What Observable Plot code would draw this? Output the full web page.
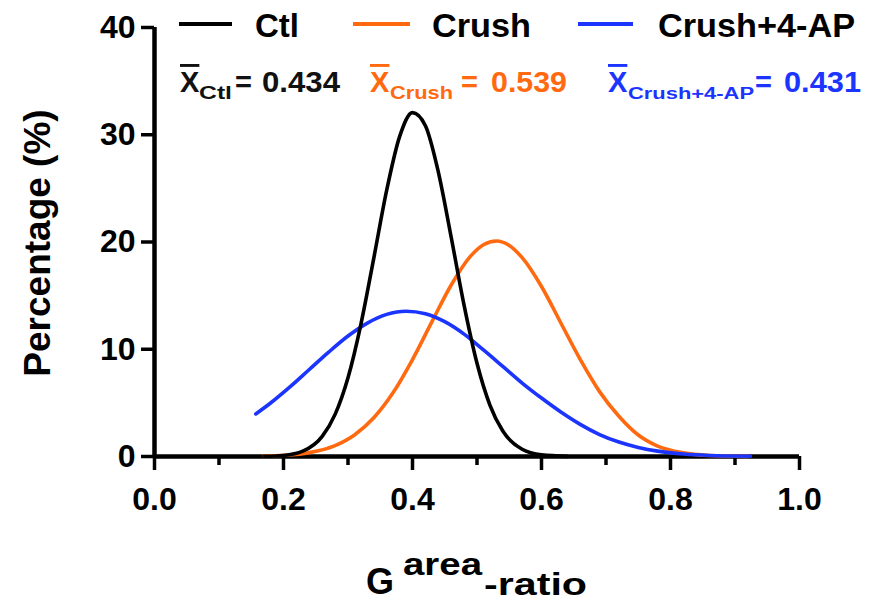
<!DOCTYPE html>
<html><head><meta charset="utf-8">
<script src="https://cdn.jsdelivr.net/npm/d3@7"></script>
<script src="https://cdn.jsdelivr.net/npm/@observablehq/plot@0.6"></script>
<style>
body{margin:0;background:#fff;}
#chart{position:relative;width:881px;height:601px;}
</style>
</head><body><div id="chart"></div>
<script>
const seriesNames = ["Ctl", "Crush", "Crush+4-AP"];
const meanSubscripts = ["Ctl", "Crush", "Crush+4-AP"];
const meanValues = ["0.434", "0.539", "0.431"];
const seriesColors = ["#000000", "#ff6a10", "#1b35ff"];
const xTicks = [0, 0.2, 0.4, 0.6, 0.8, 1.0];
const xMinorTicks = [0.1, 0.3, 0.5, 0.7, 0.9];
const yTicks = [0, 10, 20, 30, 40];

const ctlX = [0.17,0.20,0.23,0.26,0.28,0.30,0.32,0.34,0.36,0.38,0.40,0.42,0.44,0.46,0.48,0.50,0.52,0.54,0.57,0.60,0.64];
const ctlY = [0.02,0.10,0.50,1.88,3.93,7.35,12.33,18.50,24.83,29.82,32.06,30.84,26.54,20.44,14.09,8.69,4.80,2.37,0.67,0.15,0.01];

const crushX = [0.17,0.20,0.24,0.28,0.31,0.34,0.37,0.40,0.43,0.46,0.49,0.51,0.53,0.55,0.57,0.60,0.63,0.66,0.69,0.72,0.75,0.78,0.82,0.86,0.92];
const crushY = [0.04,0.11,0.36,1.02,2.01,3.61,5.96,9.04,12.55,15.99,18.68,19.75,20.10,19.68,18.54,15.85,12.45,9.05,6.05,3.75,2.00,0.97,0.34,0.10,0.01];

const apX = [0.157,0.18,0.21,0.24,0.27,0.30,0.33,0.36,0.39,0.42,0.45,0.48,0.51,0.54,0.57,0.60,0.63,0.66,0.69,0.72,0.75,0.78,0.82,0.86,0.924];
const apY = [3.97,4.99,6.49,8.11,9.73,11.23,12.44,13.25,13.55,13.32,12.57,11.41,9.94,8.40,6.85,5.45,4.15,3.00,2.05,1.35,0.85,0.50,0.23,0.10,0.03];

const toRows = (xs, ys) => xs.map((x, i) => ({x, y: ys[i]}));
const ctl = toRows(ctlX, ctlY);
const crush = toRows(crushX, crushY);
const ap = toRows(apX, apY);

const font = "'Liberation Sans', Arial, Helvetica, sans-serif";
const lw = 3.6;

const svg = Plot.plot({
  width: 881,
  height: 601,
  marginLeft: 154,
  marginRight: 82,
  marginTop: 27,
  marginBottom: 145,
  style: {fontFamily: font, background: "#fff", color: "#000"},
  x: {domain: [0, 1], label: null},
  y: {domain: [0, 40], label: null},
  marks: [
    Plot.axisX({ticks: xMinorTicks, tickSize: 9, tickFormat: () => "", strokeWidth: 3.5, label: null}),
    Plot.axisX({ticks: xTicks, tickSize: 14, tickPadding: 17, tickFormat: d3.format(".1f"), fontSize: 32, fontWeight: "bold", strokeWidth: 3.5, label: null}),
    Plot.axisY({ticks: yTicks, tickSize: 13, tickPadding: 6, fontSize: 32, fontWeight: "bold", strokeWidth: 3.5, label: null}),
    Plot.ruleX([0], {strokeWidth: 4.5, stroke: "#000"}),
    Plot.ruleY([0], {strokeWidth: 4.5, stroke: "#000"}),
    Plot.line(crush, {x: "x", y: "y", stroke: seriesColors[1], strokeWidth: lw, curve: "monotone-x"}),
    Plot.line(ap, {x: "x", y: "y", stroke: seriesColors[2], strokeWidth: lw, curve: "monotone-x"}),
    Plot.line(ctl, {x: "x", y: "y", stroke: seriesColors[0], strokeWidth: lw, curve: "monotone-x"})
  ]
});
document.getElementById("chart").appendChild(svg);

const s = d3.select(svg);
const overlay = s.append("g").attr("text-anchor", "start").attr("font-family", font);
// Legend row
const legendLines = [[179, 232], [353, 410], [578, 633]];
const legendTextX = [255, 432, 658];
const legendTextW = [44, 99, 197];
seriesNames.forEach((name, i) => {
  overlay.append("line").attr("x1", legendLines[i][0]).attr("x2", legendLines[i][1])
    .attr("y1", 24).attr("y2", 24).attr("stroke", seriesColors[i]).attr("stroke-width", 4);
  overlay.append("text").attr("x", legendTextX[i]).attr("y", 37).attr("text-anchor", "start")
    .attr("textLength", legendTextW[i]).attr("lengthAdjust", "spacingAndGlyphs")
    .attr("font-size", 33).attr("font-weight", "bold").attr("fill", "#000").text(name);
});

// Means row
const meanX = [180, 370, 608];
const subX = [199, 390, 628];
const subW = [33, 63, 126];
const subSize = [19, 18, 16];
const eqX = [235, 461, 755];
const valX = [262, 491, 784];
const valW = [78, 76, 77];
meanValues.forEach((v, i) => {
  const t = overlay.append("text").attr("y", 92).attr("text-anchor", "start")
    .attr("font-weight", "bold").attr("fill", seriesColors[i] === "#000000" ? "#111" : seriesColors[i]);
  t.append("tspan").attr("x", meanX[i]).attr("font-size", 29)
    .style("text-decoration", "overline").text("X");
  t.append("tspan").attr("x", subX[i]).attr("y", 99).attr("font-size", subSize[i])
    .attr("textLength", subW[i]).attr("lengthAdjust", "spacingAndGlyphs").text(meanSubscripts[i]);
  t.append("tspan").attr("x", eqX[i]).attr("y", 92).attr("font-size", 29).text("=");
  t.append("tspan").attr("x", valX[i]).attr("y", 92).attr("font-size", 29)
    .attr("textLength", valW[i]).attr("lengthAdjust", "spacingAndGlyphs").text(v);
});

// Y axis title
overlay.append("text").attr("transform", "translate(50,243) rotate(-90)")
  .attr("text-anchor", "middle").attr("font-size", 37).attr("font-weight", "bold")
  .attr("fill", "#000").text("Percentage (%)");

// X axis title
const xt = overlay.append("text").attr("text-anchor", "start").attr("font-weight", "bold").attr("fill", "#000");
xt.append("tspan").attr("x", 366).attr("y", 594).attr("font-size", 36).text("G");
xt.append("tspan").attr("x", 403).attr("y", 575).attr("font-size", 32)
  .attr("textLength", 79).attr("lengthAdjust", "spacingAndGlyphs").text("area");
xt.append("tspan").attr("x", 484).attr("y", 595).attr("font-size", 31)
  .attr("textLength", 103).attr("lengthAdjust", "spacingAndGlyphs").text("-ratio");
</script>
</body></html>
